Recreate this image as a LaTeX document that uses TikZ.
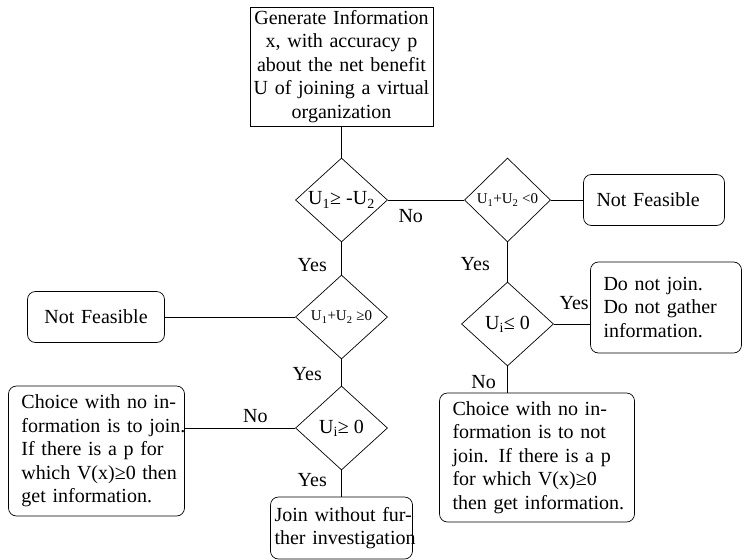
\documentclass[tikz,border=0pt]{standalone}
\usepackage{fontspec}
\setmainfont{Liberation Serif}
\usetikzlibrary{shapes.geometric,positioning}

\begin{document}
\begin{tikzpicture}[x=1bp,y=1bp,on grid,line width=0.7pt,
    every node/.style={font=\fontsize{20bp}{23.5bp}\selectfont},
    test/.style={draw,diamond,aspect=1.1,inner sep=0pt,minimum width=92bp,minimum height=84bp},
    box/.style={draw,rectangle,align=center,inner xsep=0pt,inner ysep=1bp},
    note/.style={draw,rounded corners=8bp,align=left,inner xsep=13bp,inner ysep=2bp}]
    \useasboundingbox (0,0) rectangle (747,-560);
    \node[box,text width=183bp,minimum height=119bp] (info) at (341.5,-66.5)
        {\mbox{Generate Information}\\ \mbox{x, with accuracy p}\\ \mbox{about the net benefit}\\
         \mbox{U of joining a virtual}\\ organization};
    \node[test, below=133.5bp of info] (d1) {U\textsubscript{1}≥ -U\textsubscript{2}};
    \node[test, minimum width=86bp, font=\fontsize{15bp}{17bp}\selectfont, right=166bp of d1] (d2) {U\textsubscript{1}+U\textsubscript{2} <0};
    \node[note, text width=115bp, minimum height=51bp, right=146.5bp of d2] (nf1) {Not Feasible};
    \node[test, font=\fontsize{15bp}{17bp}\selectfont, below=117bp of d1] (d3) {U\textsubscript{1}+U\textsubscript{2} ≥0};
    \node[note, align=center, text width=111bp, minimum height=51bp, left=245.5bp of d3] (nf2) {Not Feasible};
    \node[test, below=111bp of d3] (d4) {U\textsubscript{i}≥ 0};
    \node[note, text width=150bp, minimum height=130bp, below left=23bp and 245bp of d4] (c1)
        {\mbox{Choice with no in-}\\ \mbox{formation is to join.}\\ \mbox{If there is a p for}\\
         \mbox{which V(x)≥0 then}\\ \mbox{get information.}};
    \node[note, inner xsep=4bp, text width=134bp, minimum height=62bp, below=100bp of d4] (join)
        {\mbox{Join without fur-}\\ \mbox{ther investigation}};
    \node[test, below=124bp of d2] (d5) {U\textsubscript{i}≤ 0};
    \node[note, text width=125bp, minimum height=91bp, above right=16.5bp and 158.5bp of d5] (nojoin)
        {Do not join.\\ Do not gather\\ information.};
    \node[note, text width=169bp, minimum height=129bp, below right=133.5bp and 29.5bp of d5] (c2)
        {\mbox{Choice with no in-}\\ \mbox{formation is to not}\\ \mbox{join. If there is a p}\\
         \mbox{for which V(x)≥0}\\ \mbox{then get information.}};
    \path
    (info) edge (d1)
    (d1) edge node[below=6bp, pos=0.3] {No} (d2)
    (d2) edge (nf1)
    (d1) edge node[left=11bp, pos=0.7] {Yes} (d3)
    (d2) edge node[left=14bp, pos=0.56] {Yes} (d5)
    (d3) edge (nf2)
    (d3) edge node[left=16bp, pos=0.54] {Yes} (d4)
    (d4.west) edge node[above=2bp, pos=0.36] {No} (d4.west -| c1.east)
    (d4) edge node[left=11bp, pos=0.37] {Yes} (join)
    (d5.east) edge node[above=11bp, pos=0.56] {Yes} (d5.east -| nojoin.west)
    (d5.south) edge node[left=8bp, pos=0.6] {No} (d5.south |- c2.north);
\end{tikzpicture}
\end{document}
